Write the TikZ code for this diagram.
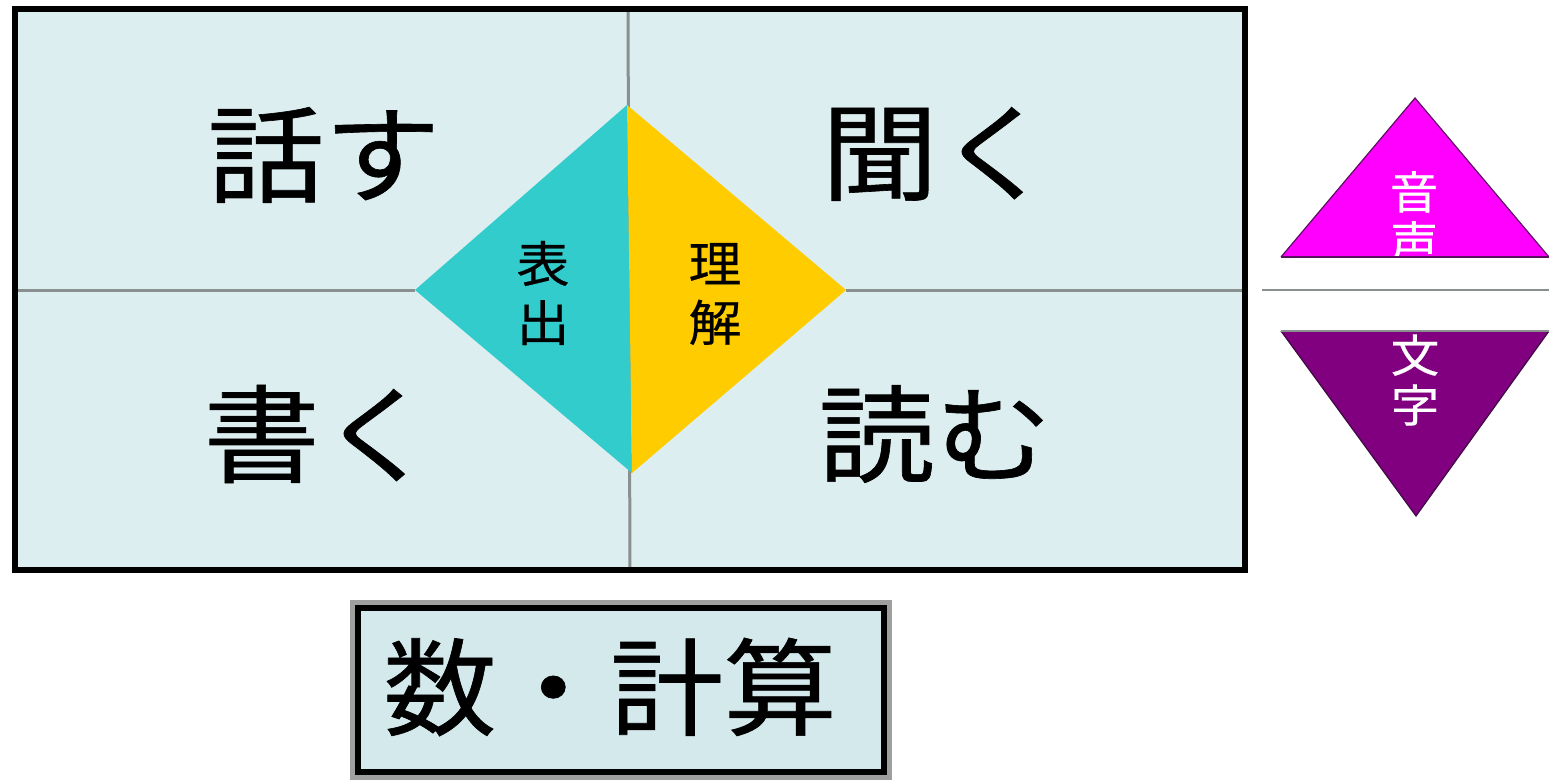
\documentclass[tikz,border=0pt]{standalone}
\usepackage{fontspec}
\newfontfamily\jpwide[FakeStretch=1.1,FakeBold=0.6]{Noto Sans CJK JP}
\newfontfamily\jpcalc[FakeStretch=1.07,FakeBold=0.6]{Noto Sans CJK JP}
\newfontfamily\jpmid[FakeStretch=1.08,FakeBold=0.4]{Noto Sans CJK JP}
\definecolor{cellbg}{HTML}{DDEEF1}
\definecolor{boxbg}{HTML}{D3E9EC}
\definecolor{divider}{HTML}{8A9090}
\definecolor{teal}{HTML}{33CCCC}
\definecolor{gold}{HTML}{FFCC00}
\definecolor{magentaT}{HTML}{FF00FF}
\definecolor{purpleT}{HTML}{800080}
\definecolor{darkpurple}{HTML}{5A1060}
\tikzset{
  bigtext/.style={font=\jpwide\fontsize{106}{106}\selectfont, inner sep=0pt},
  calctext/.style={font=\jpcalc\fontsize{106}{106}\selectfont, inner sep=0pt},
  midtext/.style={font=\jpmid\fontsize{49}{59}\selectfont, align=center, inner sep=0pt},
  tritext/.style={font=\jpmid\fontsize{45}{50}\selectfont, align=center, inner sep=0pt, text=white},
  divline/.style={draw=divider, line width=3pt},
}
\begin{document}
\begin{tikzpicture}[x=1pt,y=-1pt]
\useasboundingbox (0,0) rectangle (1549,781);
% main panel
\fill[cellbg] (15,9) rectangle (1245,570);
\coordinate (L) at (15,290);
\coordinate (R) at (1245,290);
\coordinate (T) at (628,9);
\coordinate (B) at (630,570);
\coordinate (dT) at (627,105);
\coordinate (dL) at (415,290);
\coordinate (dR) at (846,290);
\coordinate (dB) at (632,473);
\draw[divline] (T) -- (B);
\draw[divline] (L) -- (dL);
\draw[divline] (dR) -- (R);
\fill[teal] (dT) -- (dL) -- (dB) -- cycle;
\fill[gold] (dT) -- (dR) -- (dB) -- cycle;
\draw[line width=6pt] (15,9) rectangle (1245,570);
% quadrant labels
\node[bigtext] (speak) at (324,155) {話す};
\node[bigtext] (listen) at (938,154) {聞く};
\node[bigtext] (write) at (320,434) {書く};
\node[bigtext] (read) at (935,434) {読む};
\node[midtext] (express) at (543,293) {表\\出};
\node[midtext] (understand) at (715,294) {理\\解};
% triangles
\coordinate (uA) at (1415,98);
\coordinate (uL) at (1281,257);
\coordinate (uR) at (1549,257);
\fill[magentaT] (uA) -- (uL) -- (uR) -- cycle;
\draw[darkpurple, line width=1.2pt] (uL) -- (uA) -- (uR);
\begin{scope}
\clip (uA) -- (uL) -- (uR) -- cycle;
\node[tritext] (sound) at (1414,217) {音\\声};
\end{scope}
\draw[darkpurple, line width=2pt] (uL) -- (uR);
\coordinate (sepL) at (1262,290);
\coordinate (sepR) at (1549,290);
\draw[divline, line width=2.5pt] (sepL) -- (sepR);
\coordinate (lA) at (1416,516);
\coordinate (lL) at (1281,331);
\coordinate (lR) at (1549,331);
\fill[purpleT] (lA) -- (lL) -- (lR) -- cycle;
\draw[darkpurple!70!black, line width=1.2pt] (lL) -- (lA) -- (lR);
\draw[divider, line width=2.5pt] (lL) -- (lR);
\begin{scope}
\clip (lA) -- (lL) -- (lR) -- cycle;
\node[tritext] (letters) at (1415,380) {文\\字};
\end{scope}
% bottom box
\fill[boxbg] (355,605) rectangle (887,775);
\draw[gray!75, line width=5pt] (352.5,602.5) rectangle (889.5,777.5);
\draw[black, line width=6pt] (358,608) rectangle (884,772);
\node[calctext] (calc) at (610,687) {数・計算};
\end{tikzpicture}
\end{document}
